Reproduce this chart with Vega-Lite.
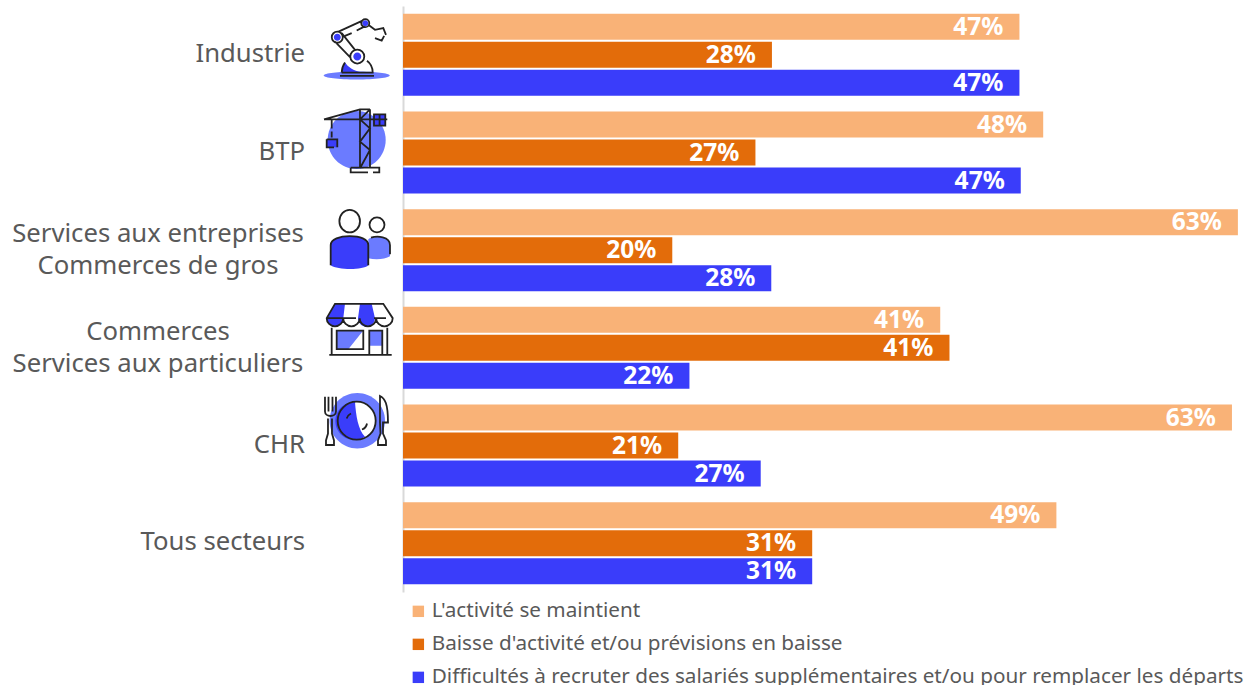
{"$schema":"https://vega.github.io/schema/vega-lite/v6.json","width":843,"height":586,"autosize":{"type":"none"},"padding":{"left":403,"top":6,"right":0,"bottom":93},"background":"white","config":{"view":{"stroke":null}},"datasets":{"bars":[
{"secteur":"Industrie","serie":"L'activité se maintient","valeur":46.7,"etiquette":"47%"},
{"secteur":"Industrie","serie":"Baisse d'activité et/ou prévisions en baisse","valeur":27.95,"etiquette":"28%"},
{"secteur":"Industrie","serie":"Difficultés à recruter des salariés supplémentaires et/ou pour remplacer les départs","valeur":46.7,"etiquette":"47%"},
{"secteur":"BTP","serie":"L'activité se maintient","valeur":48.5,"etiquette":"48%"},
{"secteur":"BTP","serie":"Baisse d'activité et/ou prévisions en baisse","valeur":26.7,"etiquette":"27%"},
{"secteur":"BTP","serie":"Difficultés à recruter des salariés supplémentaires et/ou pour remplacer les départs","valeur":46.8,"etiquette":"47%"},
{"secteur":"Services","serie":"L'activité se maintient","valeur":63.25,"etiquette":"63%"},
{"secteur":"Services","serie":"Baisse d'activité et/ou prévisions en baisse","valeur":20.4,"etiquette":"20%"},
{"secteur":"Services","serie":"Difficultés à recruter des salariés supplémentaires et/ou pour remplacer les départs","valeur":27.9,"etiquette":"28%"},
{"secteur":"Commerces","serie":"L'activité se maintient","valeur":40.7,"etiquette":"41%"},
{"secteur":"Commerces","serie":"Baisse d'activité et/ou prévisions en baisse","valeur":41.4,"etiquette":"41%"},
{"secteur":"Commerces","serie":"Difficultés à recruter des salariés supplémentaires et/ou pour remplacer les départs","valeur":21.7,"etiquette":"22%"},
{"secteur":"CHR","serie":"L'activité se maintient","valeur":62.8,"etiquette":"63%"},
{"secteur":"CHR","serie":"Baisse d'activité et/ou prévisions en baisse","valeur":20.85,"etiquette":"21%"},
{"secteur":"CHR","serie":"Difficultés à recruter des salariés supplémentaires et/ou pour remplacer les départs","valeur":27.1,"etiquette":"27%"},
{"secteur":"Tous","serie":"L'activité se maintient","valeur":49.5,"etiquette":"49%"},
{"secteur":"Tous","serie":"Baisse d'activité et/ou prévisions en baisse","valeur":31,"etiquette":"31%"},
{"secteur":"Tous","serie":"Difficultés à recruter des salariés supplémentaires et/ou pour remplacer les départs","valeur":31,"etiquette":"31%"}]},
"data":{"name":"bars"},
"layer":[
{"mark":{"type":"bar","cornerRadius":0},"encoding":{
"x":{"field":"valeur","type":"quantitative","scale":{"domain":[0,63.864],"nice":false,"zero":true},"axis":null},
"y":{"field":"secteur","type":"nominal","sort":["Industrie","BTP","Services","Commerces","CHR","Tous"],"scale":{"domain":["Industrie","BTP","Services","Commerces","CHR","Tous"],"paddingInner":0.16,"paddingOuter":0.08},"axis":{"title":null,"labels":false,"ticks":false,"grid":false,"domainColor":"#d9d9d9","domainWidth":2}},
"yOffset":{"field":"serie","type":"nominal","sort":["L'activité se maintient","Baisse d'activité et/ou prévisions en baisse","Difficultés à recruter des salariés supplémentaires et/ou pour remplacer les départs"],"scale":{"paddingInner":0.07}},
"color":{"field":"serie","type":"nominal","sort":["L'activité se maintient","Baisse d'activité et/ou prévisions en baisse","Difficultés à recruter des salariés supplémentaires et/ou pour remplacer les départs"],"scale":{"domain":["L'activité se maintient","Baisse d'activité et/ou prévisions en baisse","Difficultés à recruter des salariés supplémentaires et/ou pour remplacer les départs"],"range":["#f9b277","#e36c0a","#3a3dfa"]},"legend":{"orient":"none","legendX":5,"legendY":595,"title":null,"padding":0,"symbolType":"square","symbolSize":130,"symbolStrokeWidth":0,"labelFont":"Noto Sans","labelFontSize":20.7,"labelColor":"#595959","labelLimit":900,"labelOffset":3,"rowPadding":11,"direction":"vertical","columns":1}}}},
{"mark":{"type":"text","align":"right","baseline":"middle","dx":-16,"dy":1,"font":"Noto Sans","fontWeight":"bold","fontSize":24.5,"color":"white"},"encoding":{
"x":{"field":"valeur","type":"quantitative"},
"y":{"field":"secteur","type":"nominal"},
"yOffset":{"field":"serie","type":"nominal","sort":["L'activité se maintient","Baisse d'activité et/ou prévisions en baisse","Difficultés à recruter des salariés supplémentaires et/ou pour remplacer les départs"]},
"text":{"field":"etiquette","type":"nominal"}}},
{"data":{"values":[{"secteur":"Industrie","nom":"Industrie","x":-7.42},{"secteur":"BTP","nom":"BTP","x":-7.42},{"secteur":"CHR","nom":"CHR","x":-7.42},{"secteur":"Tous","nom":"Tous secteurs","x":-7.42}]},"mark":{"type":"text","align":"right","baseline":"middle","dy":-1,"font":"Noto Sans","fontSize":25.7,"color":"#595959"},"encoding":{"x":{"field":"x","type":"quantitative"},"y":{"field":"secteur","type":"nominal"},"text":{"field":"nom","type":"nominal"}}},
{"data":{"values":[{"secteur":"Services","nom":["Services aux entreprises","Commerces de gros"],"x":-18.56},{"secteur":"Commerces","nom":["Commerces","Services aux particuliers"],"x":-18.56}]},"mark":{"type":"text","align":"center","baseline":"middle","dy":-16,"lineHeight":32,"font":"Noto Sans","fontSize":25.7,"color":"#595959"},"encoding":{"x":{"field":"x","type":"quantitative"},"y":{"field":"secteur","type":"nominal"},"text":{"field":"nom"}}},
{"data":{"values":[{"secteur":"Industrie","x":-3.41}]},"encoding":{"x":{"field":"x","type":"quantitative"},"y":{"field":"secteur","type":"nominal"}},"layer":[
{"mark":{"type":"point","size":40000,"filled":true,"opacity":1,"color":"#6b7bff","shape":"M-0.343,0.207a0.33,0.04 0 1 0 0.66,0a0.33,0.04 0 1 0 -0.66,0Z"}},
{"mark":{"type":"point","size":40000,"filled":true,"opacity":1,"color":"#3a3dfa","shape":"M-0.163,0.177C-0.16,0.12 -0.14,0.09 -0.13,0.077C-0.1,0.12 -0.05,0.16 0.04,0.177ZM-0.047,0.017a0.04,0.04 0 1 0 0.08,0a0.04,0.04 0 1 0 -0.08,0ZM-0.242,-0.177a0.035,0.035 0 1 0 0.07,0a0.035,0.035 0 1 0 -0.07,0ZM0.043,-0.317a0.03,0.03 0 1 0 0.06,0a0.03,0.03 0 1 0 -0.06,0Z"}},
{"mark":{"type":"point","size":40000,"filled":false,"opacity":1,"stroke":"#222222","strokeWidth":1.8,"shape":"M-0.163,0.177C-0.16,0.12 -0.14,0.09 -0.13,0.077M0.09,0.06C0.13,0.09 0.147,0.13 0.147,0.177L-0.163,0.177M-0.18,0.21L0.16,0.21M-0.077,0.017a0.07,0.07 0 1 0 0.14,0a0.07,0.07 0 1 0 -0.14,0ZM-0.262,-0.177a0.055,0.055 0 1 0 0.11,0a0.055,0.055 0 1 0 -0.11,0ZM0.033,-0.317a0.04,0.04 0 1 0 0.08,0a0.04,0.04 0 1 0 -0.08,0ZM-0.2,-0.23L0.04,-0.34M-0.13,-0.19L-0.063,-0.217M-0.013,-0.243L0.053,-0.277M-0.163,-0.217L-0.03,-0.05M-0.23,-0.133L-0.08,0.023M0.103,-0.3L0.17,-0.25L0.253,-0.267L0.28,-0.2M0.17,-0.167L0.237,-0.143L0.262,-0.19"}}]},
{"data":{"values":[{"secteur":"BTP","x":-3.41}]},"encoding":{"x":{"field":"x","type":"quantitative"},"y":{"field":"secteur","type":"nominal"}},"layer":[
{"mark":{"type":"point","size":40000,"filled":true,"opacity":1,"color":"#6b7bff","shape":"M-0.303,-0.125a0.29,0.29 0 1 0 0.58,0a0.29,0.29 0 1 0 -0.58,0Z"}},
{"mark":{"type":"point","size":40000,"filled":true,"opacity":1,"color":"#3a3dfa","shape":"M-0.313,-0.132L-0.207,-0.132L-0.207,-0.052L-0.313,-0.052ZM0.16,-0.382L0.273,-0.382L0.273,-0.268L0.16,-0.268Z"}},
{"mark":{"type":"point","size":40000,"filled":false,"opacity":1,"stroke":"#222222","strokeWidth":1.8,"shape":"M-0.34,-0.332L0.293,-0.332M-0.34,-0.332L0.02,-0.432L0.12,-0.432M0.02,-0.432L0.02,0.158M0.12,-0.432L0.12,0.158M0.02,-0.332L0.12,-0.432M0.02,-0.332L0.12,-0.242L0.02,-0.108L0.12,-0.025L0.02,0.158M-0.073,0.152L0.213,0.152L0.213,0.198L0.15,0.198M-0.073,0.152L-0.073,0.198L0.1,0.198M-0.263,-0.332L-0.263,-0.24M-0.263,-0.21L-0.263,-0.15M-0.313,-0.132L-0.207,-0.132L-0.207,-0.052M-0.313,-0.132L-0.313,-0.052L-0.24,-0.052M0.16,-0.382L0.273,-0.382L0.273,-0.268L0.16,-0.268ZM0.216,-0.382L0.216,-0.268"}}]},
{"data":{"values":[{"secteur":"Services","x":-3.41}]},"encoding":{"x":{"field":"x","type":"quantitative"},"y":{"field":"secteur","type":"nominal"}},"layer":[
{"mark":{"type":"point","size":40000,"filled":true,"opacity":1,"color":"#6b7bff","shape":"M0.103,-0.11C0.14,-0.14 0.32,-0.15 0.32,-0.05L0.32,0.06C0.27,0.09 0.18,0.1 0.103,0.08Z"}},
{"mark":{"type":"point","size":40000,"filled":true,"opacity":1,"color":"#3a3dfa","shape":"M-0.273,0.15L-0.273,-0.05C-0.273,-0.11 -0.18,-0.14 -0.083,-0.14C0.02,-0.14 0.103,-0.11 0.103,-0.05L0.103,0.15C0.05,0.2 -0.2,0.2 -0.273,0.15Z"}},
{"mark":{"type":"point","size":40000,"filled":false,"opacity":1,"stroke":"#222222","strokeWidth":1.8,"shape":"M-0.273,0.15L-0.273,-0.05C-0.273,-0.11 -0.18,-0.14 -0.083,-0.14C0.02,-0.14 0.103,-0.11 0.103,-0.05L0.103,0.15M0.13,-0.125C0.19,-0.145 0.32,-0.14 0.32,-0.05L0.32,0.04M-0.186,-0.29a0.103,0.113 0 1 0 0.206,0a0.103,0.113 0 1 0 -0.206,0ZM0.115,-0.253a0.075,0.075 0 1 0 0.15,0a0.075,0.075 0 1 0 -0.15,0Z"}}]},
{"data":{"values":[{"secteur":"Commerces","x":-3.41}]},"encoding":{"x":{"field":"x","type":"quantitative"},"y":{"field":"secteur","type":"nominal"}},"layer":[
{"mark":{"type":"point","size":40000,"filled":true,"opacity":1,"color":"#6b7bff","shape":"M-0.213,-0.173L0.053,-0.173L-0.097,0.013L-0.213,0.013ZM0.113,-0.173L0.243,-0.173L0.243,-0.02L0.113,-0.02Z"}},
{"mark":{"type":"point","size":40000,"filled":true,"opacity":1,"color":"#3a3dfa","shape":"M-0.23,-0.44L-0.13,-0.44L-0.147,-0.297A0.083,0.083 0 0 1 -0.313,-0.297ZM0.02,-0.44L0.137,-0.44L0.17,-0.297A0.085,0.085 0 0 1 0,-0.297Z"}},
{"mark":{"type":"point","size":40000,"filled":false,"opacity":1,"stroke":"#222222","strokeWidth":1.8,"shape":"M-0.23,-0.44L0.253,-0.44L0.347,-0.297A0.0825,0.0825 0 0 1 0.182,-0.297A0.0825,0.0825 0 0 1 0.017,-0.297A0.0825,0.0825 0 0 1 -0.148,-0.297A0.0825,0.0825 0 0 1 -0.313,-0.297ZM-0.313,-0.297L-0.02,-0.297M0.16,-0.297L0.28,-0.297M-0.263,-0.2L-0.263,0.07M0.293,-0.2L0.293,0.07M-0.287,0.07L0.337,0.07M-0.213,-0.173L0.053,-0.173L0.053,0.013L-0.213,0.013ZM0.113,0.07L0.113,-0.173L0.243,-0.173L0.243,0.07"}}]},
{"data":{"values":[{"secteur":"CHR","x":-3.41}]},"encoding":{"x":{"field":"x","type":"quantitative"},"y":{"field":"secteur","type":"nominal"}},"layer":[
{"mark":{"type":"point","size":40000,"filled":true,"opacity":1,"color":"#6b7bff","shape":"M-0.284,-0.248a0.277,0.277 0 1 0 0.554,0a0.277,0.277 0 1 0 -0.554,0Z"}},
{"mark":{"type":"point","size":40000,"filled":true,"opacity":1,"color":"#ffffff","shape":"M-0.203,-0.248a0.19,0.19 0 1 0 0.38,0a0.19,0.19 0 1 0 -0.38,0Z"}},
{"mark":{"type":"point","size":40000,"filled":true,"opacity":1,"color":"#3a3dfa","shape":"M-0.03,-0.435C-0.02,-0.3 0,-0.16 0.07,-0.088A0.19,0.19 0 1 1 -0.03,-0.435Z"}},
{"mark":{"type":"point","size":40000,"filled":false,"opacity":1,"stroke":"#222222","strokeWidth":1.8,"shape":"M-0.203,-0.248a0.19,0.19 0 1 0 0.38,0a0.19,0.19 0 1 0 -0.38,0ZM-0.113,-0.27C-0.105,-0.3 -0.09,-0.31 -0.07,-0.32M0.04,-0.16C0.07,-0.17 0.085,-0.19 0.09,-0.22M-0.33,-0.488L-0.33,-0.34C-0.33,-0.28 -0.22,-0.28 -0.22,-0.34L-0.22,-0.488M-0.295,-0.488L-0.295,-0.34M-0.255,-0.488L-0.255,-0.34M-0.3,-0.27L-0.3,-0.12L-0.32,-0.05L-0.32,-0.005L-0.24,-0.005L-0.24,-0.05L-0.26,-0.12L-0.26,-0.27M0.22,-0.495C0.27,-0.47 0.3,-0.42 0.3,-0.23L0.25,-0.23L0.25,-0.12L0.28,-0.05L0.28,-0.005L0.2,-0.005L0.2,-0.05L0.225,-0.12L0.22,-0.23Z"}}]}
]}
